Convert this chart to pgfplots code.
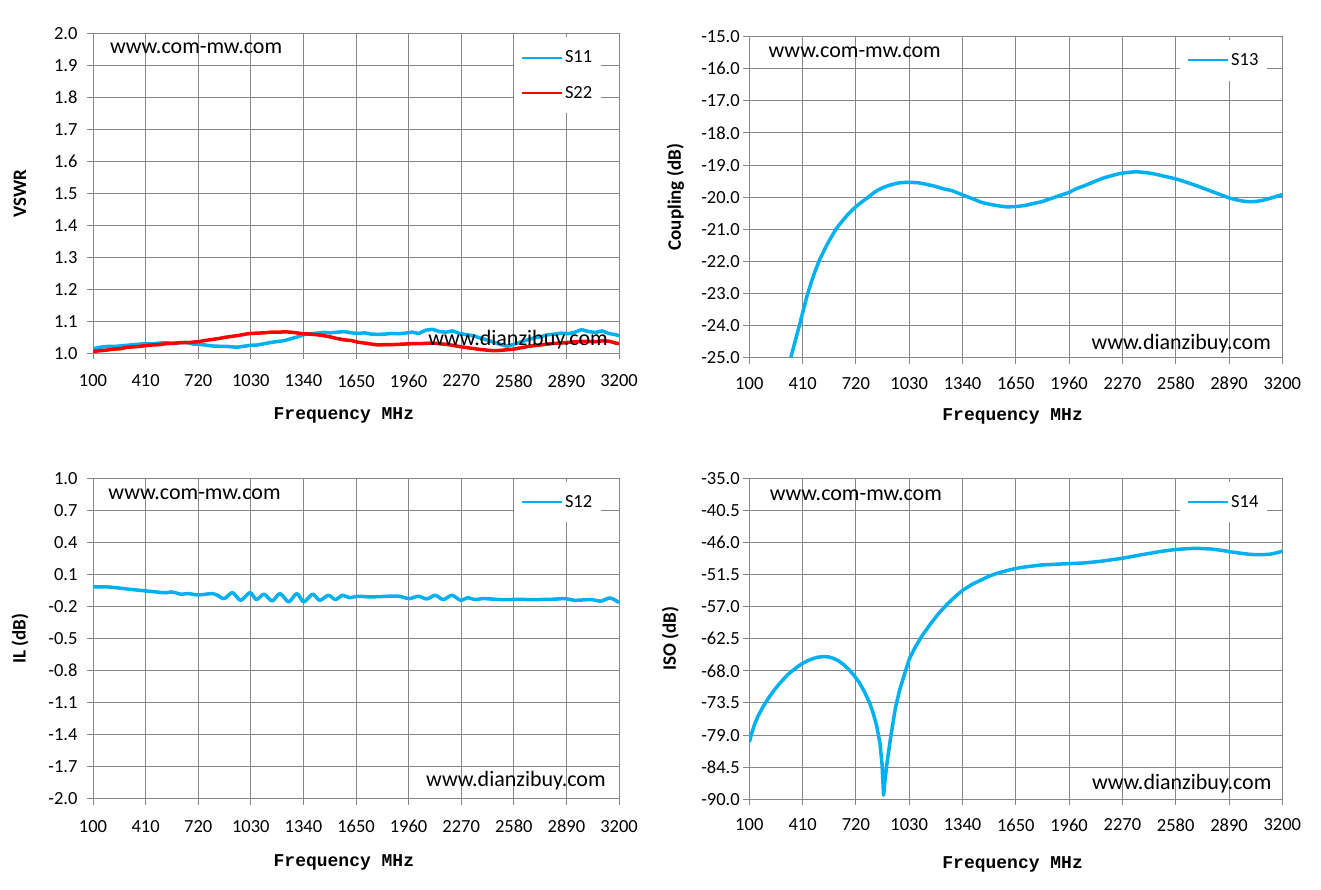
\documentclass[border=0pt]{standalone}
\usepackage{fontspec}
\setmainfont{Carlito}
\newfontfamily\freqfont{Liberation Mono}
\usepackage{pgfplots}
\pgfplotsset{compat=1.18}
\definecolor{cy}{RGB}{0,176,240}
\definecolor{gr}{RGB}{134,134,134}

\pgfplotsset{
  myaxis/.style={
    scale only axis,
    xmin=100, xmax=3200,
    xtick={100,410,720,1030,1340,1650,1960,2270,2580,2890,3200},
    scaled ticks=false,
    grid=major,
    grid style={gr, line width=1pt},
    axis line style={gr, line width=1pt},
    tick align=outside, tick pos=left,
    major tick length=6pt,
    tick style={gr, line width=1pt},
    tick label style={font=\fontsize{18.5}{22}\selectfont, text=black},
    /pgf/number format/assume math mode=true,
    xticklabel style={/pgf/number format/set thousands separator={}},
    yticklabel style={/pgf/number format/fixed, /pgf/number format/fixed zerofill, /pgf/number format/precision=1},
    xlabel={\freqfont\bfseries Frequency MHz},
    xlabel style={font=\fontsize{18}{20}\selectfont, anchor=center},
    ylabel style={font=\fontsize{19}{22}\selectfont\bfseries, at={(axis description cs:0,0.5)}, anchor=center},
    legend style={draw=none, fill=white, font=\fontsize{18.5}{22}\selectfont,
      inner xsep=7pt, inner ysep=11.5pt, row sep=18pt,
      nodes={inner sep=2pt}},
    legend cell align=left,
    legend image code/.code={\draw[#1, line width=2pt] (0pt,0pt) -- (40pt,0pt);},
    every axis plot/.append style={line width=3.5pt, line join=round, mark=none},
  },
}
\tikzset{wm/.style={inner sep=0pt, font=\fontsize{22}{25}\selectfont}}

\begin{document}
\begin{tikzpicture}
\useasboundingbox (0,0) rectangle (1321pt,890pt);

% ---------------- Top left: VSWR ----------------
\begin{axis}[myaxis,
  at={(93pt,536.7pt)}, anchor=south west,
  width=526pt, height=320pt,
  ymin=1, ymax=2, ytick={1,1.1,...,2.01},
  ylabel={VSWR},
  ylabel style={yshift=73pt},
  xlabel style={at={(axis description cs:0.477,0)}, yshift=-62pt},
  yticklabel style={xshift=-6pt},
  xticklabel style={yshift=-12pt},
  legend style={at={(axis description cs:0.80,0.988)}, anchor=north west},
]
\addplot[cy] coordinates {
(100,1.014)(130,1.018)(160,1.020)(200,1.022)(240,1.022)(280,1.024)(320,1.026)(360,1.028)
(410,1.030)(450,1.029)(490,1.032)(530,1.033)(570,1.031)(610,1.033)(650,1.034)(690,1.029)
(720,1.028)(760,1.026)(800,1.023)(840,1.022)(880,1.022)(920,1.020)(950,1.019)(990,1.022)
(1030,1.025)(1070,1.026)(1110,1.030)(1150,1.034)(1190,1.037)(1230,1.040)(1270,1.046)(1310,1.052)
(1340,1.058)(1380,1.061)(1420,1.063)(1460,1.065)(1500,1.064)(1540,1.066)(1580,1.068)(1620,1.064)
(1660,1.062)(1700,1.064)(1740,1.060)(1780,1.059)(1820,1.060)(1860,1.062)(1900,1.061)(1940,1.063)
(1980,1.066)(2020,1.062)(2060,1.072)(2100,1.075)(2140,1.068)(2180,1.066)(2220,1.070)(2260,1.062)
(2300,1.058)(2340,1.055)(2380,1.048)(2420,1.042)(2460,1.035)(2500,1.028)(2540,1.022)(2580,1.028)
(2620,1.035)(2660,1.042)(2700,1.048)(2740,1.052)(2780,1.058)(2820,1.060)(2860,1.063)(2900,1.061)
(2940,1.066)(2980,1.074)(3020,1.068)(3060,1.065)(3100,1.070)(3140,1.062)(3180,1.058)(3200,1.055)
};
\addlegendentry{S11}
\addplot[red] coordinates {
(100,1.006)(140,1.008)(180,1.010)(220,1.013)(260,1.014)(300,1.019)(340,1.020)(380,1.022)
(410,1.024)(450,1.026)(490,1.027)(530,1.030)(570,1.031)(610,1.033)(650,1.033)(690,1.035)
(720,1.036)(760,1.040)(800,1.043)(840,1.046)(880,1.050)(920,1.053)(960,1.056)(1000,1.060)
(1030,1.062)(1070,1.063)(1110,1.064)(1150,1.066)(1190,1.066)(1230,1.067)(1270,1.066)(1310,1.063)
(1340,1.061)(1380,1.060)(1420,1.058)(1460,1.055)(1500,1.051)(1540,1.046)(1580,1.042)(1620,1.040)
(1660,1.035)(1700,1.032)(1740,1.029)(1780,1.026)(1820,1.027)(1860,1.027)(1900,1.028)(1940,1.029)
(1980,1.030)(2020,1.030)(2060,1.031)(2100,1.032)(2140,1.030)(2180,1.028)(2220,1.025)(2260,1.021)
(2300,1.018)(2340,1.015)(2380,1.012)(2420,1.010)(2460,1.008)(2500,1.009)(2540,1.011)(2580,1.013)
(2620,1.017)(2660,1.021)(2700,1.024)(2740,1.026)(2780,1.029)(2820,1.031)(2860,1.032)(2900,1.034)
(2940,1.036)(2980,1.037)(3020,1.037)(3060,1.036)(3100,1.039)(3140,1.038)(3180,1.032)(3200,1.030)
};
\addlegendentry{S22}
\node[wm, anchor=west] at (axis description cs:0.032,0.954) {www.com-mw.com};
\node[wm, anchor=east] at (axis description cs:0.979,0.042) {www.dianzibuy.com};
\end{axis}

% ---------------- Top right: Coupling ----------------
\begin{axis}[myaxis,
  at={(749.3pt,532.3pt)}, anchor=south west,
  width=533pt, height=321pt,
  ymin=-25, ymax=-15, ytick={-25,-24,...,-15},
  ylabel={Coupling (dB)},
  ylabel style={yshift=74pt},
  xlabel style={at={(axis description cs:0.494,0)}, yshift=-59pt},
  xticklabel style={yshift=-10pt},
  legend style={at={(axis description cs:0.808,0.99)}, anchor=north west},
]
\addplot[cy, smooth, tension=0.4] coordinates {
(341,-25.0)(366,-24.5)(391,-24.0)(415,-23.5)(440,-23.0)(470,-22.5)(505,-22.0)(550,-21.5)
(604,-21.0)(640,-20.75)(680,-20.5)(730,-20.25)(792,-20.0)(830,-19.84)(870,-19.72)
(920,-19.62)(976,-19.55)(1030,-19.54)(1080,-19.55)(1130,-19.60)(1180,-19.66)(1230,-19.74)(1280,-19.80)
(1340,-19.93)(1400,-20.05)(1450,-20.16)(1500,-20.22)(1550,-20.27)(1600,-20.30)(1650,-20.29)(1700,-20.26)
(1750,-20.20)(1800,-20.14)(1850,-20.05)(1900,-19.96)(1960,-19.85)(2000,-19.74)(2050,-19.64)(2100,-19.53)
(2150,-19.42)(2200,-19.34)(2250,-19.27)(2300,-19.23)(2350,-19.21)(2400,-19.23)(2450,-19.27)(2500,-19.33)
(2580,-19.43)(2640,-19.53)(2700,-19.64)(2760,-19.76)(2820,-19.88)(2890,-20.02)(2950,-20.10)(3000,-20.14)
(3050,-20.13)(3100,-20.08)(3150,-20.00)(3200,-19.92)
};
\addlegendentry{S13}
\node[wm, anchor=west] at (axis description cs:0.036,0.953) {www.com-mw.com};
\node[wm, anchor=east] at (axis description cs:0.979,0.045) {www.dianzibuy.com};
\end{axis}

% ---------------- Bottom left: IL ----------------
\begin{axis}[myaxis,
  at={(93pt,91.4pt)}, anchor=south west,
  width=526pt, height=320pt,
  ymin=-2, ymax=1, ytick={-2,-1.7,-1.4,-1.1,-0.8,-0.5,-0.2,0.1,0.4,0.7,1},
  ylabel={IL (dB)},
  ylabel style={yshift=73pt},
  xlabel style={at={(axis description cs:0.477,0)}, yshift=-64pt},
  yticklabel style={xshift=-6pt},
  xticklabel style={yshift=-12pt},
  legend style={at={(axis description cs:0.80,0.99)}, anchor=north west},
]
\addplot[cy, smooth, tension=0.5] coordinates {
(100,-0.016)(190,-0.016)(300,-0.035)(410,-0.053)(514,-0.069)(540,-0.068)(560,-0.0625)(590,-0.072)
(617,-0.084)(659,-0.078)(690,-0.085)(720,-0.091)(760,-0.085)(800,-0.078)(830,-0.091)(873,-0.125)
(922,-0.069)(970,-0.141)(1025,-0.069)(1063,-0.134)(1108,-0.084)(1156,-0.147)(1202,-0.078)(1253,-0.156)
(1301,-0.078)(1342,-0.156)(1394,-0.084)(1436,-0.141)(1487,-0.094)(1529,-0.134)(1570,-0.094)(1612,-0.116)
(1663,-0.103)(1736,-0.109)(1840,-0.103)(1902,-0.103)(1964,-0.125)(2016,-0.103)(2068,-0.128)(2117,-0.094)
(2164,-0.134)(2215,-0.094)(2267,-0.141)(2308,-0.116)(2350,-0.134)(2400,-0.125)(2502,-0.134)(2600,-0.133)
(2709,-0.134)(2812,-0.131)(2885,-0.125)(2937,-0.141)(3040,-0.134)(3092,-0.150)(3147,-0.119)(3200,-0.1625)
};
\addlegendentry{S12}
\node[wm, anchor=west] at (axis description cs:0.029,0.952) {www.com-mw.com};
\node[wm, anchor=east] at (axis description cs:0.975,0.055) {www.dianzibuy.com};
\end{axis}

% ---------------- Bottom right: ISO ----------------
\begin{axis}[myaxis,
  at={(749.3pt,90.7pt)}, anchor=south west,
  width=533pt, height=321pt,
  ymin=-90, ymax=-35, ytick={-90,-84.5,-79,-73.5,-68,-62.5,-57,-51.5,-46,-40.5,-35},
  ylabel={ISO (dB)},
  ylabel style={yshift=79pt},
  xlabel style={at={(axis description cs:0.494,0)}, yshift=-65pt},
  xticklabel style={yshift=-10pt},
  legend style={at={(axis description cs:0.808,0.99)}, anchor=north west},
]
\addplot[cy] coordinates {
(100,-80.2)(115,-78.6)(130,-77.2)(150,-75.8)(175,-74.4)(200,-73.2)(225,-72.1)(250,-71.1)
(275,-70.2)(300,-69.4)(325,-68.6)(350,-68.0)(380,-67.3)(410,-66.7)(440,-66.25)(470,-65.9)
(500,-65.65)(530,-65.55)(560,-65.6)(590,-65.85)(620,-66.3)(650,-66.95)(680,-67.8)(710,-68.8)
(740,-70.0)(770,-71.6)(800,-73.5)(820,-75.2)(840,-77.3)(860,-80.4)(872,-84.0)(877,-87.0)
(881,-89.3)(888,-87.0)(900,-84.0)(920,-79.8)(950,-74.3)(975,-71.2)(1000,-68.8)(1030,-66.0)
(1060,-64.2)(1100,-62.2)(1150,-60.1)(1200,-58.2)(1250,-56.6)(1300,-55.2)(1340,-54.2)(1400,-53.1)
(1450,-52.4)(1500,-51.7)(1550,-51.2)(1600,-50.8)(1650,-50.45)(1700,-50.2)(1800,-49.85)(1900,-49.7)
(1960,-49.62)(2050,-49.5)(2150,-49.2)(2270,-48.7)(2400,-48.0)(2500,-47.5)(2580,-47.2)(2650,-47.05)
(2700,-47.0)(2780,-47.1)(2850,-47.35)(2900,-47.6)(2960,-47.85)(3020,-48.05)(3080,-48.1)(3130,-48.0)
(3170,-47.75)(3200,-47.5)
};
\addlegendentry{S14}
\node[wm, anchor=west] at (axis description cs:0.038,0.948) {www.com-mw.com};
\node[wm, anchor=east] at (axis description cs:0.98,0.05) {www.dianzibuy.com};
\end{axis}
\end{tikzpicture}
\end{document}
